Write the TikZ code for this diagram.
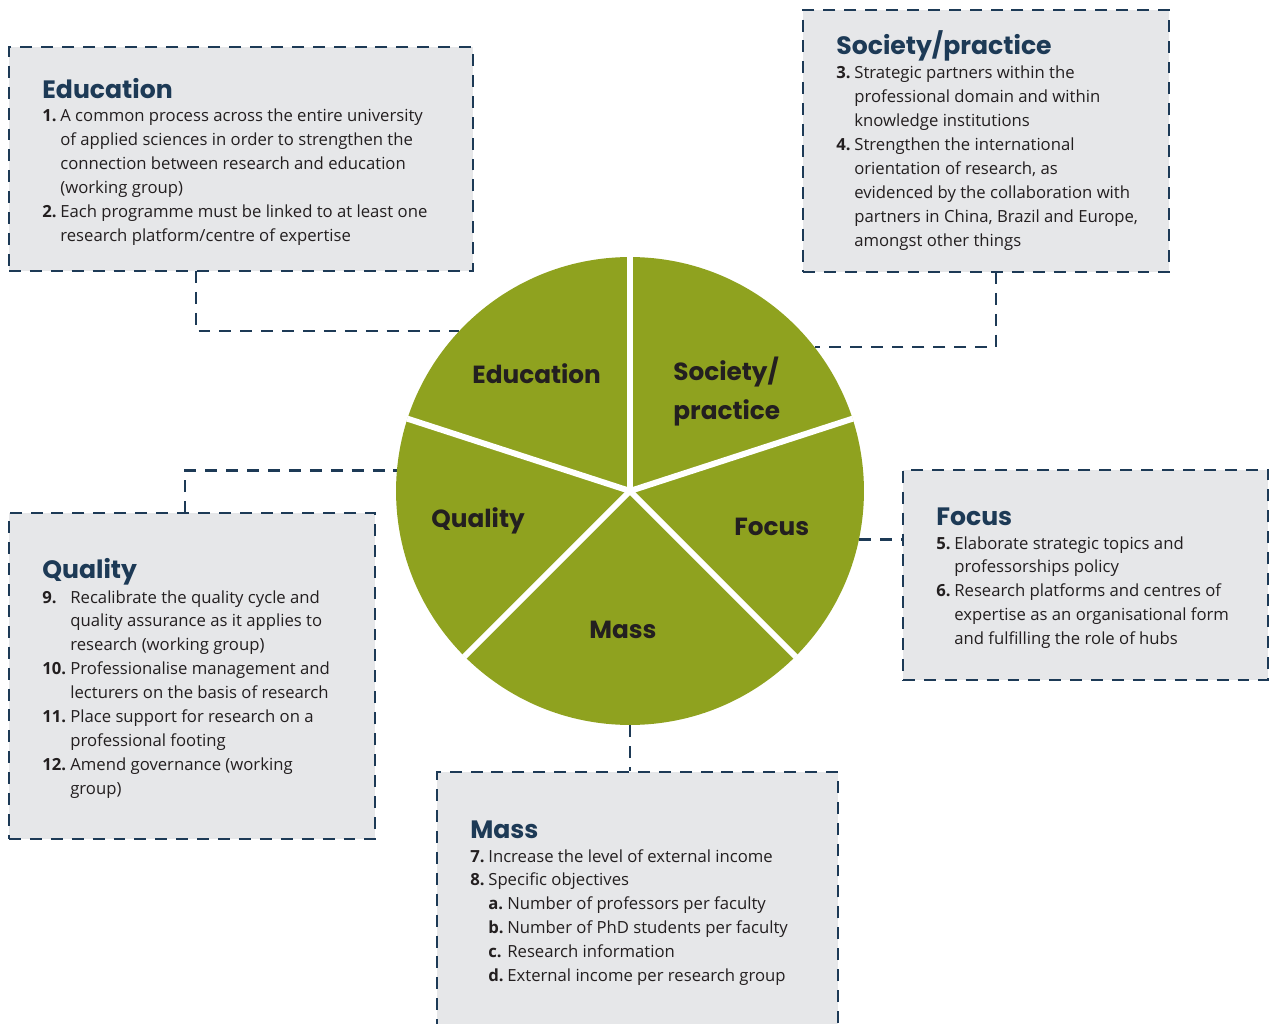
\documentclass[tikz,border=0pt]{standalone}
\usepackage{fontspec}
\setmainfont{Open Sans}
\newfontfamily\headfont{Poppins}
\usepackage{array}
\usetikzlibrary{fit}
\pgfdeclarelayer{bg}
\pgfsetlayers{bg,main}

\definecolor{piegreen}{HTML}{8FA21F}
\definecolor{navy}{HTML}{1D3A56}
\definecolor{boxgray}{HTML}{E6E7E9}
\definecolor{ink}{HTML}{231F20}

\newlength\pxu
\setlength\pxu{0.02cm}

\tikzset{
    goalbox/.style={draw=navy, fill=boxgray, line width=1.4pt, dash pattern=on 6.8pt off 5.1pt, inner sep=0pt},
    link/.style={draw=navy, line width=1.4pt, dash pattern=on 6.8pt off 5.1pt},
    boxtitle/.style={anchor=base west, inner sep=0pt, text=navy, font=\headfont\bfseries\fontsize{14.3}{18}\selectfont},
    itemlist/.style={anchor=base west, inner sep=0pt, text=ink, font=\fontsize{9.5}{13.6}\selectfont},
    slicelabel/.style={anchor=base west, inner sep=0pt, text=ink, font=\headfont\bfseries\fontsize{14.1}{22.7}\selectfont},
    slicecut/.style={draw=white, line width=3.4pt},
}

\begin{document}
\begin{tikzpicture}[x=0.02cm, y=-0.02cm]
    \clip (0, 0) rectangle (1269, 1024);

    % boxes
    \node (edubox) [goalbox, fit={(9, 47) (473, 271)}] {};
    \node (socbox) [goalbox, fit={(803, 10) (1169, 272)}] {};
    \node (focbox) [goalbox, fit={(903, 470) (1268, 680)}] {};
    \node (qualbox) [goalbox, fit={(9, 513) (375, 839)}] {};
    \node (massbox) [goalbox, fit={(437, 772) (838, 1040)}] {};

    \coordinate (edutap) at (196, 271);
    \coordinate (soctap) at (996, 272);
    \coordinate (qualtap) at (185, 513);

    % pie
    \node (pie) [circle, fill=piegreen, inner sep=0pt, minimum size=9.36cm] at (630, 491) {};
    \foreach \a in {90, 18, -45, -135, 162}
        \draw[slicecut] (pie.center) -- (pie.\a);

    \node (eduslice) [slicelabel] at (472, 383) {Education};
    \node (socslice) [slicelabel] at (673, 380) {\begin{tabular}[t]{@{}l@{}}Society/\\practice\end{tabular}};
    \node (qualslice) [slicelabel] at (431, 527) {Quality};
    \node (focslice) [slicelabel] at (734, 535) {Focus};
    \node (massslice) [slicelabel] at (589, 638) {Mass};

    % texts
    \node (edutitle) [boxtitle] at (42, 99) {Education};
    \node (edulist) [itemlist] at (42, 122) {\begin{tabular}[t]{@{}>{\bfseries}p{18\pxu}@{}l@{}}
        1. & A common process across the entire university\\
           & of applied sciences in order to strengthen the\\
           & connection between research and education\\
           & (working group)\\
        2. & Each programme must be linked to at least one\\
           & research platform/centre of expertise
    \end{tabular}};

    \node (soctitle) [boxtitle] at (836, 55) {Society/practice};
    \node (soclist) [itemlist] at (836, 79) {\begin{tabular}[t]{@{}>{\bfseries}p{18\pxu}@{}l@{}}
        3. & Strategic partners within the\\
           & professional domain and within\\
           & knowledge institutions\\
        4. & Strengthen the international\\
           & orientation of research, as\\
           & evidenced by the collaboration with\\
           & partners in China, Brazil and Europe,\\
           & amongst other things
    \end{tabular}};

    \node (foctitle) [boxtitle] at (936, 525) {Focus};
    \node (foclist) [itemlist] at (936, 549) {\begin{tabular}[t]{@{}>{\bfseries}p{18\pxu}@{}l@{}}
        5. & Elaborate strategic topics and\\
           & professorships policy\\
        6. & Research platforms and centres of\\
           & expertise as an organisational form\\
           & and fulfilling the role of hubs
    \end{tabular}};

    \node (qualtitle) [boxtitle] at (42, 578) {Quality};
    \node (quallist) [itemlist] at (42, 603) {\begin{tabular}[t]{@{}>{\bfseries}p{28\pxu}@{}l@{}}
        9.  & Recalibrate the quality cycle and\\
            & quality assurance as it applies to\\
            & research (working group)\\
        10. & Professionalise management and\\
            & lecturers on the basis of research\\
        11. & Place support for research on a\\
            & professional footing\\
        12. & Amend governance (working\\
            & group)
    \end{tabular}};

    \node (masstitle) [boxtitle] at (470, 838) {Mass};
    \node (masslist) [itemlist] at (470, 862) {\begin{tabular}[t]{@{}>{\bfseries}p{18\pxu}@{}l@{}}
        7. & Increase the level of external income\\
        8. & Specific objectives\\
           & \makebox[19\pxu][l]{\textbf{a.}}Number of professors per faculty\\
           & \makebox[19\pxu][l]{\textbf{b.}}Number of PhD students per faculty\\
           & \makebox[19\pxu][l]{\textbf{c.}}Research information\\
           & \makebox[19\pxu][l]{\textbf{d.}}External income per research group
    \end{tabular}};

    \begin{pgfonlayer}{bg}
        \draw[link] (edutap) |- (pie.137);
        \draw[link] (soctap) |- (pie.38);
        \draw[link] (pie.-12.5) -- (pie.-12.5 -| focbox.west);
        \draw[link] (qualtap) |- (pie.175);
        \draw[link] (pie.south) -- (pie.south |- massbox.north);
    \end{pgfonlayer}
\end{tikzpicture}
\end{document}
